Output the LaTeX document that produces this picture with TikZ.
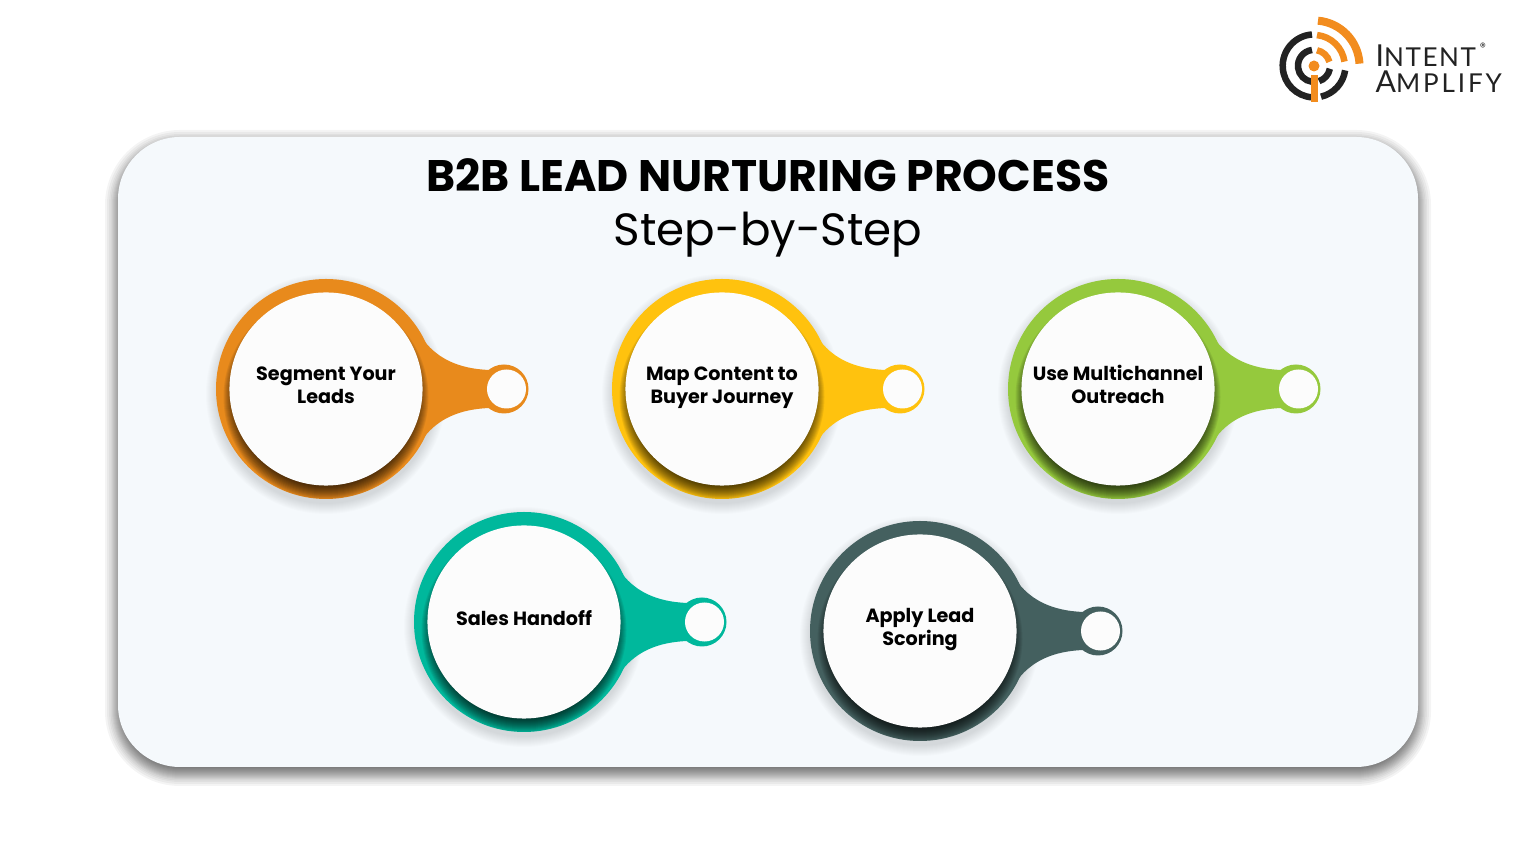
\documentclass[tikz,border=0pt]{standalone}
\usepackage{fontspec}
\setmainfont{Poppins}
\newfontfamily\logofont[LetterSpace=6]{Lato}
\newfontfamily\logowide[LetterSpace=11]{Lato}
\usepackage{tikz}
\usetikzlibrary{positioning,calc}
\definecolor{cardblue}{HTML}{F5F9FC}
\definecolor{inkgrey}{HTML}{222222}
\definecolor{logoorange}{HTML}{F28C1E}
\definecolor{segorange}{HTML}{E88A1C}
\definecolor{mapyellow}{HTML}{FFC20E}
\definecolor{usegreen}{HTML}{95C93D}
\definecolor{salesteal}{HTML}{00B89C}
\definecolor{scoreslate}{HTML}{44605F}
\tikzset{
  leadtext/.style={align=center, inner sep=0pt, font=\bfseries\fontsize{5.45}{6.6}\selectfont, text=black},
  leadface/.style={circle, fill=white!99!black, minimum size=1.93cm, inner sep=0pt},
  logoarc/.style={line width=0.065cm}
}
% (center) colour name text
\def\leadkey(#1, #2)#3#4#5{
  \begin{scope}[shift={(#1, #2)}]
    \foreach \i in {0, 1, ..., 10}
      \fill [black, opacity=0.012] (0, -5) circle [radius=110+\i];
    \fill [#3] (0, 0) circle [radius=110];
    \fill [#3] (99, 47) .. controls (112, 31) and (132, 20) .. (164, 19)
      -- (164, -19) .. controls (132, -20) and (112, -31) .. (99, -47) -- cycle;
    \fill [#3] (178, 0) circle [radius=24.5];
    \begin{scope}
      \clip (0, 0) circle [radius=110];
      \foreach \i in {-8, -7, ..., 6}
        \fill [black, opacity=0.07] (0, -8) circle [radius=96.5+\i];
    \end{scope}
    \node [leadface] (#4 face) at (0, 0) {};
    \node [leadface, minimum size=0.39cm] (#4 hole) at (180.5, 0) {};
    \node [leadtext] (#4) at (0, 1.5) {\strut #5\strut};
  \end{scope}
}
\begin{document}
\begin{tikzpicture}[x=0.01cm, y=0.01cm]
  \useasboundingbox (0, 0) rectangle (1536, 864);
  % card
  \foreach \i in {-6, -5, ..., 5, 6, 7.5, 9, 11, 13}
    \fill [black, opacity=0.042, rounded corners=0.62cm+\i*0.01cm]
      (118-\i, 91-\i) rectangle (1418+\i, 721+\i);
  \fill [cardblue, rounded corners=0.62cm] (118, 97) rectangle (1418, 727);
  % title
  \node [inner sep=0pt, font=\bfseries\fontsize{12.55}{14}\selectfont] (title) at (768, 689) {B2B LEAD NURTURING PROCESS};
  \node [inner sep=0pt, font=\fontsize{12.85}{16}\selectfont] (subtitle) at (768, 629) {Step-by-Step};
  % leads
  \leadkey(326, 475){segorange}{seg}{Segment Your\\Leads}
  \leadkey(722, 475){mapyellow}{map}{Map Content to\\Buyer Journey}
  \leadkey(1118, 475){usegreen}{use}{Use Multichannel\\Outreach}
  \leadkey(524, 242){salesteal}{sales}{Sales Handoff}
  \leadkey(920, 233){scoreslate}{score}{Apply Lead\\Scoring}
  % logo
  \begin{scope}[shift={(1314, 798)}]
    \draw [logoarc, inkgrey] (-2, 31.5) arc (94:266:31.5);
    \draw [logoarc, inkgrey] (-2, 16) arc (97:263:16);
    \draw [logoarc, inkgrey] (7, -30.7) arc (-77:-8:31.5);
    \draw [logoarc, inkgrey] (5, -15.2) arc (-72:-10:16);
    \draw [logoorange, line width=0.08cm] (4, 45.3) arc (85:3:45.5);
    \draw [logoarc, logoorange] (3, 30.9) arc (84:8:31);
    \draw [logoarc, logoorange] (3, 15.7) arc (79:15:16);
    \fill [logoorange] (0, 0) circle [radius=5.5];
    \fill [logoorange] (-3, -36) rectangle (3.5, -9);
  \end{scope}
  \node [inner sep=0pt, anchor=west, font=\logofont\fontsize{8.6}{9}\selectfont, text=inkgrey] (intent) at (1375, 808) {I\fontsize{7.4}{9}\selectfont NTENT};
  \node [inner sep=0pt, anchor=west, font=\logowide\fontsize{8.6}{9}\selectfont, text=inkgrey] (amplify) at (1375, 782) {A\fontsize{7.4}{9}\selectfont MPLIFY};
  \node [inner sep=0pt, font=\fontsize{3.4}{3.6}\selectfont, text=inkgrey] (reg) at (1483, 817) {®};
\end{tikzpicture}
\end{document}
